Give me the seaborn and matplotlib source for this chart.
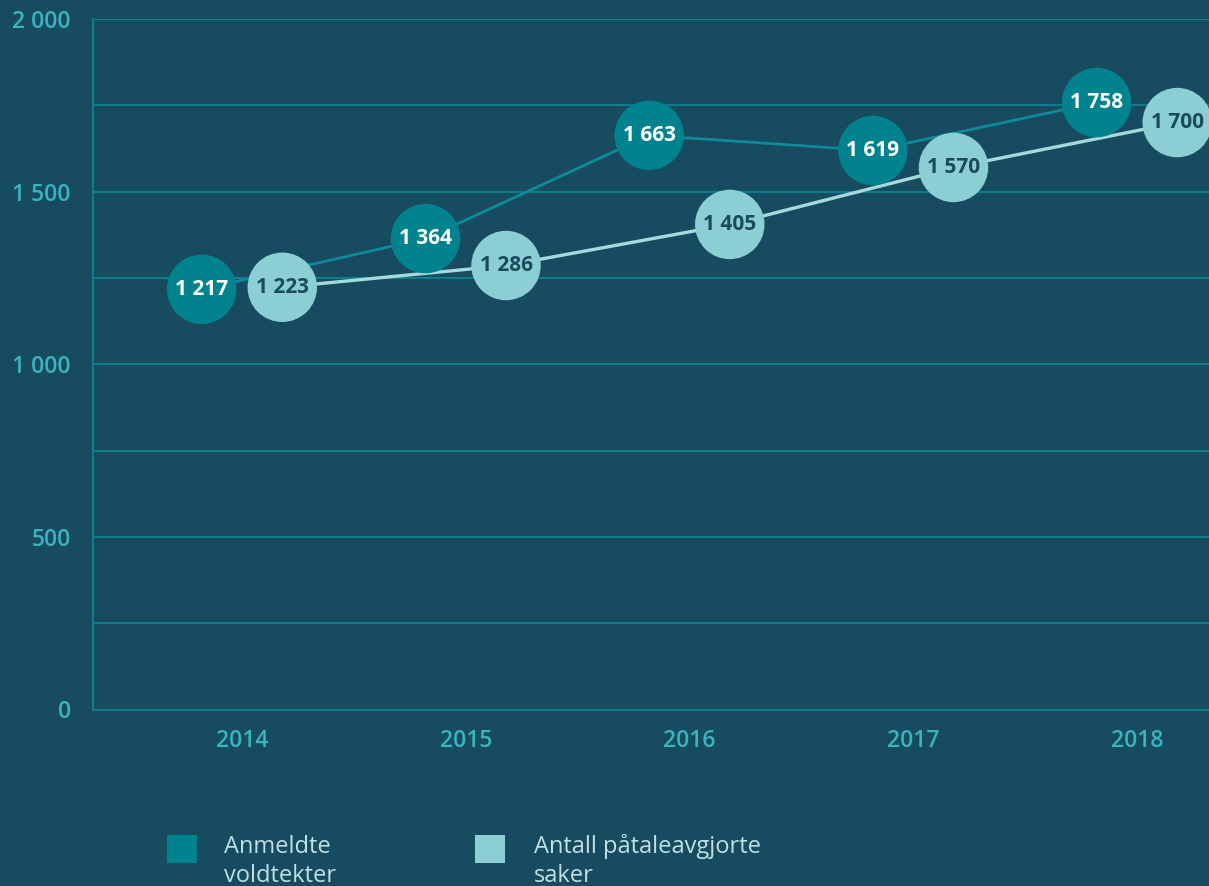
import numpy as np
import pandas as pd
import seaborn as sns
import matplotlib.pyplot as plt
from matplotlib.patches import Rectangle

# data
years = ["2014", "2015", "2016", "2017", "2018"]
anmeldte = [1217, 1364, 1663, 1619, 1758]
avgjorte = [1223, 1286, 1405, 1570, 1700]
series_names = ["Anmeldte\nvoldtekter", "Antall påtaleavgjorte\nsaker"]
y_major = [0, 500, 1000, 1500, 2000]
y_minor = [250, 750, 1250, 1750]

BG = "#174c60"
GRID = "#0b7d8b"
TICK = "#3ab4be"
DARK = "#00838f"
LIGHT = "#8bcfd4"
LINE_DARK = "#0e8a98"
LINE_LIGHT = "#a6d9dd"
LEGEND_TXT = "#bfe0e4"

sns.set_theme(style="white")
plt.rcParams["font.family"] = ["Open Sans", "DejaVu Sans"]

idx = np.arange(len(years))
dodge = 0.18
df = pd.DataFrame({
    "pos": np.concatenate([idx - dodge, idx + dodge]),
    "value": anmeldte + avgjorte,
    "serie": ["a"] * len(years) + ["b"] * len(years),
})

fig = plt.figure(figsize=(12.09, 8.86), dpi=100, facecolor=BG)
ax = fig.add_axes([93 / 1209, (886 - 709.5) / 886, 1 - 93 / 1209, (709.5 - 19) / 886])
ax.set_facecolor(BG)

# lines first, circles on top
sns.lineplot(data=df, x="pos", y="value", hue="serie",
             palette={"a": LINE_DARK, "b": LINE_LIGHT}, ax=ax,
             linewidth=2, legend=False, zorder=3)
ax.lines[-1].set_linewidth(2.4)
sns.scatterplot(data=df, x="pos", y="value", hue="serie",
                palette={"a": DARK, "b": LIGHT}, ax=ax, s=2500,
                linewidth=0, legend=False, zorder=4, clip_on=False)

fmt = lambda v: f"{int(v):,}".replace(",", " ")
for _, r in df.iterrows():
    col = "white" if r["serie"] == "a" else "#1b4a5e"
    ax.text(r["pos"], r["value"], fmt(r["value"]), ha="center", va="center",
            fontsize=15, fontweight="bold", color=col, zorder=5)

ax.set_xlim(-0.666, 4.322)
ax.set_ylim(0, 2000)
ax.set_xticks(idx, years, fontweight=600)
ax.set_yticks(y_major, [fmt(v) for v in y_major], fontweight=600)
ax.set_yticks(y_minor, minor=True)
ax.grid(True, axis="y", which="both", color=GRID, linewidth=1.5, zorder=1)
ax.grid(False, axis="x")
ax.set_axisbelow(True)
ax.tick_params(axis="both", which="both", length=0, colors=TICK, labelsize=16.5)
ax.tick_params(axis="y", pad=16)
ax.tick_params(axis="x", pad=14)
ax.set(xlabel="", ylabel="")
for side in ["top", "right"]:
    ax.spines[side].set_visible(False)
for side in ["left", "bottom"]:
    ax.spines[side].set_color(GRID)
    ax.spines[side].set_linewidth(1.5)

# legend placed by hand: square aligned with first text line
W, H = 1209, 886
for (x0, tx), col, name in zip([(167, 224), (475, 534)], [DARK, LIGHT], series_names):
    fig.add_artist(Rectangle((x0 / W, 1 - 863 / H), 30 / W, 28 / H,
                             transform=fig.transFigure, color=col, lw=0))
    for k, line in enumerate(name.split("\n")):
        fig.text(tx / W, 1 - (853 + 29 * k) / H, line, ha="left", va="baseline",
                 fontsize=17, color=LEGEND_TXT)

fig.savefig("out.png", dpi=100, facecolor=BG)
